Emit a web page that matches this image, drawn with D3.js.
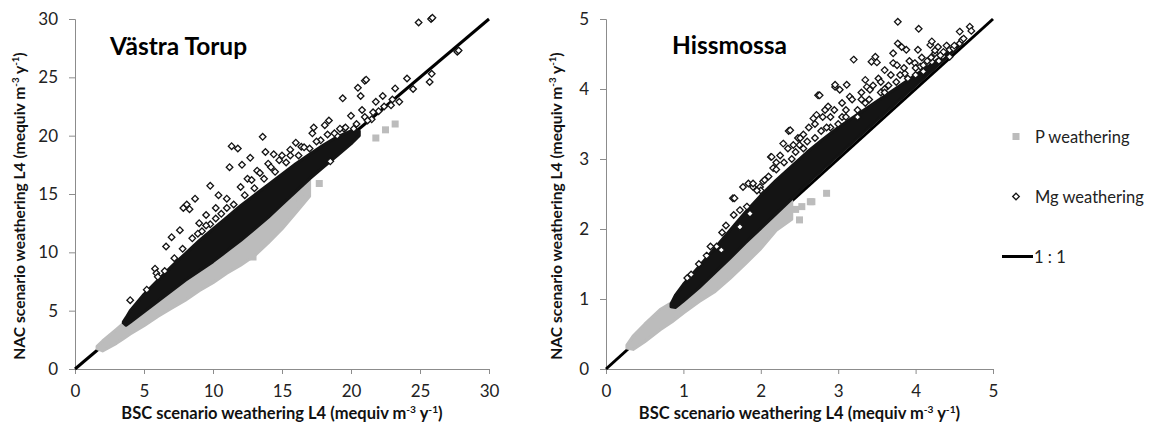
<!DOCTYPE html>
<html>
<head>
<meta charset="utf-8">
<script src="https://cdn.jsdelivr.net/npm/d3@7"></script>
<style>
  body { margin: 0; background: #fff; }
  svg { display: block; font-family: Lato, "Open Sans", sans-serif; }
</style>
</head>
<body>
<svg id="chart" width="1150" height="433"></svg>
<script>
// ---- Västra Torup (left panel) ----
var vtTicks = [0, 5, 10, 15, 20, 25, 30];
// dense Mg band (envelope of overlapping diamonds)
var vtMgBandX = [3.5, 3.7, 4, 5, 6, 7, 8, 9, 10, 11, 12, 13, 14, 15, 16, 17, 18, 19, 20, 20.6];
var vtMgBandLo = [3.95, 3.75, 4.0, 4.9, 5.8, 6.7, 7.6, 8.4, 9.2, 10.1, 11.0, 12.0, 13.0, 14.1, 15.2, 16.3, 17.3, 18.3, 19.3, 20.0];
var vtMgBandHi = [4.05, 4.4, 5.0, 6.4, 7.6, 8.8, 9.9, 11.0, 12.0, 13.0, 14.0, 14.9, 15.8, 16.7, 17.6, 18.4, 19.2, 19.9, 20.4, 20.4];
// dense P band (envelope of overlapping squares)
var vtPBandX = [1.6, 2, 3, 3.5, 4, 5, 6, 7, 8, 9, 10, 11, 12, 13, 14, 15, 16, 17];
var vtPBandLo = [1.75, 1.55, 2.2, 2.6, 3.0, 3.7, 4.5, 5.2, 5.9, 6.7, 7.4, 8.2, 8.9, 9.7, 10.8, 12.0, 13.4, 14.8];
var vtPBandHi = [1.95, 2.4, 3.4, 3.9, 4.3, 5.2, 6.1, 7.0, 7.9, 8.7, 9.5, 10.4, 11.3, 12.3, 13.3, 14.4, 15.5, 16.4];
// single P points outside the band
var vtPx = [12.9, 14.6, 15.5, 16.3, 17.7, 21.8, 22.5, 23.2];
var vtPy = [9.6, 12.6, 14.3, 14.6, 15.9, 19.8, 20.5, 21.0];
// single Mg points outside or on the edge of the band
var vtMgx = [4.0, 5.8, 5.9, 6.6, 7.0, 7.6, 7.85, 8.1, 8.3, 8.7, 9.0, 9.5, 9.8, 10.2, 10.4, 11.0, 11.2, 11.35, 11.8, 12.0, 12.1, 12.5, 12.7, 13.2, 13.6, 13.8, 14.0, 14.4, 15.0, 15.6, 16.0, 16.4, 17.2, 17.3, 18.1, 18.4, 18.5, 19.0, 19.4, 19.5, 20.0, 20.2, 20.5, 20.7, 20.8, 21.0, 21.0, 21.1, 21.5, 21.8, 22.0, 22.3, 22.9, 23.2, 23.5, 24.06, 24.5, 24.9, 25.7, 25.85, 25.8, 25.9, 27.7, 27.8,
	5.2, 6.0, 6.5, 7.2, 7.8, 8.5, 9.2, 9.8, 10.6, 11.5, 12.3, 13.0, 13.7, 14.5, 15.3, 16.2, 17.0, 17.8, 18.8, 19.6,
	12.8, 13.4, 14.2, 14.8, 15.6, 16.6, 17.5, 18.3, 19.2, 20.4, 21.2, 21.6, 22.4, 23.0, 10.2, 11.0, 8.9, 9.5];
var vtMgy = [5.9, 8.6, 8.2, 10.5, 11.3, 11.9, 13.8, 14.1, 13.7, 14.6, 12.5, 13.2, 15.7, 13.8, 14.9, 14.6, 17.3, 19.1, 18.9, 15.6, 17.5, 16.3, 18.1, 17.0, 19.9, 18.6, 17.6, 18.4, 18.3, 18.8, 19.4, 19.05, 20.2, 20.7, 20.9, 21.3, 17.8, 20.0, 23.2, 20.6, 21.7, 20.6, 24.1, 23.4, 22.2, 24.7, 21.6, 24.8, 21.4, 22.9, 22.1, 23.4, 22.6, 24.05, 22.9, 24.9, 24.0, 29.7, 24.6, 25.3, 30.0, 30.1, 27.2, 27.3,
	6.8, 7.9, 8.4, 9.5, 10.3, 11.2, 11.8, 12.4, 13.3, 14.1, 14.9, 15.5, 16.3, 16.9, 17.7, 18.3, 18.9, 19.6, 20.2, 20.7,
	16.2, 16.8, 17.3, 17.9, 18.3, 19.0, 19.5, 20.1, 20.6, 21.0, 21.3, 22.0, 22.5, 23.1, 12.9, 13.8, 11.6, 12.3];

// ---- Hissmossa (right panel) ----
var hmTicks = [0, 1, 2, 3, 4, 5];
var hmMgBandX = [0.84, 0.9, 1.0, 1.2, 1.4, 1.6, 1.8, 2.0, 2.2, 2.4, 2.6, 2.8, 3.0, 3.2, 3.4, 3.6, 3.8, 4.0, 4.2, 4.4, 4.55];
var hmMgBandLo = [0.89, 0.88, 0.97, 1.16, 1.37, 1.58, 1.8, 2.01, 2.22, 2.43, 2.65, 2.85, 3.05, 3.25, 3.45, 3.65, 3.85, 4.05, 4.25, 4.45, 4.6];
var hmMgBandHi = [0.93, 1.06, 1.21, 1.46, 1.72, 1.98, 2.24, 2.48, 2.7, 2.9, 3.1, 3.28, 3.45, 3.6, 3.75, 3.9, 4.05, 4.2, 4.35, 4.52, 4.62];
var hmPBandX = [0.27, 0.35, 0.5, 0.7, 0.85, 1.0, 1.2, 1.4, 1.6, 1.8, 2.0, 2.2, 2.4];
var hmPBandLo = [0.30, 0.28, 0.39, 0.56, 0.67, 0.8, 0.96, 1.1, 1.29, 1.5, 1.72, 1.98, 2.14];
var hmPBandHi = [0.34, 0.47, 0.64, 0.85, 0.95, 1.04, 1.22, 1.42, 1.62, 1.84, 2.04, 2.25, 2.4];
var hmPx = [2.45, 2.5, 2.53, 2.64, 2.66, 2.85];
var hmPy = [2.28, 2.13, 2.32, 2.39, 2.39, 2.51];
var hmMgx = [1.1, 1.2, 1.3, 1.43, 1.49, 1.55, 1.64, 1.66, 1.73, 1.73, 1.77, 1.82, 1.84, 1.86, 1.9, 1.9, 1.99, 2.0, 2.03, 2.13, 2.14, 2.16, 2.2, 2.29, 2.36, 2.38, 2.4, 2.48, 2.51, 2.55, 2.6, 2.68, 2.72, 2.74, 2.76, 2.83, 2.87, 2.9, 2.96, 2.96, 3.02, 3.05, 3.11, 3.15, 3.2, 3.25, 3.3, 3.35, 3.37, 3.41, 3.43, 3.48, 3.5, 3.52, 3.55, 3.6, 3.65, 3.71, 3.71, 3.76, 3.77, 3.77, 3.82, 3.86, 3.88, 3.9, 3.99, 4.03, 4.04, 4.06, 4.1, 4.1, 4.19, 4.21, 4.21, 4.25, 4.29, 4.3, 4.35, 4.36, 4.44, 4.44, 4.49, 4.57, 4.57, 4.6, 4.7, 4.72,
	1.05, 1.35, 1.5, 1.65, 1.95, 2.1, 2.3, 2.45, 2.7, 2.85, 3.1, 3.35, 3.6, 3.8, 4.0, 4.2,
	2.5, 2.55, 2.62, 2.7, 2.78, 2.8, 2.9, 2.95, 3.0, 3.05, 3.1, 3.18, 3.25, 3.3, 3.4, 3.45, 3.55, 3.6, 3.68, 3.75, 3.85, 3.92, 4.0, 4.08, 4.15, 4.25, 4.32, 4.4, 4.5, 4.62, 2.25, 2.35, 2.42, 2.2, 2.05];
var hmMgy = [1.35, 1.5, 1.62, 1.75, 1.7, 2.05, 2.44, 2.44, 2.03, 2.27, 2.6, 2.32, 2.65, 2.22, 2.6, 2.65, 2.6, 2.55, 2.68, 3.03, 3.03, 2.87, 2.85, 3.22, 3.4, 3.41, 3.0, 3.3, 3.3, 3.15, 3.25, 3.58, 3.63, 3.91, 3.91, 3.7, 3.75, 3.45, 4.03, 4.06, 3.99, 3.6, 4.06, 3.89, 4.42, 3.7, 3.85, 4.13, 4.03, 3.99, 4.39, 4.46, 4.38, 4.15, 3.95, 4.27, 4.05, 4.51, 4.37, 4.34, 4.96, 4.65, 4.6, 4.22, 4.56, 4.15, 4.37, 4.56, 4.86, 4.32, 4.34, 4.25, 4.63, 4.68, 4.39, 4.51, 4.6, 4.4, 4.47, 4.53, 4.56, 4.46, 4.58, 4.82, 4.65, 4.7, 4.89, 4.83,
	1.3, 1.75, 1.95, 2.2, 2.55, 2.75, 2.95, 3.1, 3.3, 3.45, 3.6, 3.8, 4.0, 4.2, 4.3, 4.45,
	3.2, 3.35, 3.45, 3.5, 3.4, 3.6, 3.6, 3.7, 3.5, 3.8, 3.7, 3.85, 3.6, 3.95, 3.85, 4.05, 4.1, 3.95, 4.2, 4.1, 4.3, 4.4, 4.2, 4.45, 4.4, 4.55, 4.48, 4.62, 4.62, 4.72, 3.05, 3.15, 3.2, 2.95, 2.7];

var legendLabels = ["P weathering", "Mg weathering", "1 : 1"];

var GRAY = "#bcbcbc", INK = "#141414", AXIS = "#8c8c8c";
var svg = d3.select("#chart");

function zipBand(xs, lo, hi) {
	return xs.map(function(v, i) { return {x: v, lo: lo[i], hi: hi[i]}; });
}
function zipPts(xs, ys) {
	return xs.map(function(v, i) { return {x: v, y: ys[i]}; });
}
function diamond(r) {
	return "M0," + (-r) + "L" + r + ",0L0," + r + "L" + (-r) + ",0Z";
}

function addTitle(g, x, y, size, parts, rotate) {
	var t = g.append("text")
		.attr("text-anchor", "middle")
		.attr("font-weight", "bold")
		.attr("font-size", size)
		.attr("fill", "#111")
		.attr("transform", "translate(" + x + "," + y + ")" + (rotate ? " rotate(-90)" : ""));
	parts.forEach(function(p) {
		var s = t.append("tspan").text(p[0]);
		if (p[1]) s.attr("baseline-shift", "super").attr("font-size", size * 0.62);
	});
}

function drawPanel(p) {
	var g = svg.append("g");
	var x = d3.scaleLinear().domain(p.domain).range(p.xRange);
	var y = d3.scaleLinear().domain(p.domain).range(p.yRange);
	var fmt = d3.format("d");

	// axes
	var xAxis = g.append("g")
		.attr("transform", "translate(0," + p.yRange[0] + ")")
		.call(d3.axisBottom(x).tickValues(p.ticks).tickFormat(fmt).tickSize(5).tickPadding(11));
	var yAxis = g.append("g")
		.attr("transform", "translate(" + p.xRange[0] + ",0)")
		.call(d3.axisLeft(y).tickValues(p.ticks).tickFormat(fmt).tickSize(6).tickPadding(11));
	[xAxis, yAxis].forEach(function(a) {
		a.select(".domain").attr("stroke", AXIS);
		a.selectAll(".tick line").attr("stroke", AXIS);
		a.selectAll(".tick text")
			.attr("font-size", 17)
			.attr("fill", "#222")
			.attr("font-family", "Lato, 'Open Sans', sans-serif");
	});

	// 1:1 line
	g.append("line")
		.attr("x1", x(p.domain[0])).attr("y1", y(p.domain[0]))
		.attr("x2", x(p.domain[1])).attr("y2", y(p.domain[1]))
		.attr("stroke", "#000")
		.attr("stroke-width", 3);

	var area = d3.area()
		.x(function(d) { return x(d.x); })
		.y0(function(d) { return y(d.lo); })
		.y1(function(d) { return y(d.hi); });

	// P weathering
	g.append("path")
		.attr("d", area(p.pBand))
		.attr("fill", GRAY)
		.attr("stroke", GRAY)
		.attr("stroke-width", 3)
		.attr("stroke-linejoin", "round");
	g.selectAll(".psq").data(p.pPts).enter().append("rect")
		.attr("x", function(d) { return x(d.x) - 3.5; })
		.attr("y", function(d) { return y(d.y) - 3.5; })
		.attr("width", 7).attr("height", 7)
		.attr("fill", GRAY);

	// Mg weathering
	g.append("path")
		.attr("d", area(p.mgBand))
		.attr("fill", INK)
		.attr("stroke", INK)
		.attr("stroke-width", 3)
		.attr("stroke-linejoin", "round");
	g.selectAll(".mgd").data(p.mgPts).enter().append("path")
		.attr("transform", function(d) { return "translate(" + x(d.x) + "," + y(d.y) + ")"; })
		.attr("d", diamond(3.3))
		.attr("fill", "#fff")
		.attr("stroke", INK)
		.attr("stroke-width", 1.3);

	// panel name
	g.append("text")
		.attr("x", p.name[1]).attr("y", p.name[2])
		.attr("font-size", 24.5)
		.attr("font-weight", "bold")
		.attr("fill", "#000")
		.text(p.name[0]);

	addTitle(g, (p.xRange[0] + p.xRange[1]) / 2, 419, 16.5,
		[["BSC scenario weathering L4 (mequiv m"], ["-3", 1], [" y"], ["-1", 1], [")"]], false);
	addTitle(g, p.yTitleX, 206, 15.6,
		[["NAC scenario weathering L4 (mequiv m"], ["-3", 1], [" y"], ["-1", 1], [")"]], true);
}

drawPanel({
	domain: [0, 30], ticks: vtTicks,
	xRange: [75, 489], yRange: [369, 19],
	pBand: zipBand(vtPBandX, vtPBandLo, vtPBandHi),
	mgBand: zipBand(vtMgBandX, vtMgBandLo, vtMgBandHi),
	pPts: zipPts(vtPx, vtPy), mgPts: zipPts(vtMgx, vtMgy),
	name: ["Västra Torup", 110, 55], yTitleX: 25
});
drawPanel({
	domain: [0, 5], ticks: hmTicks,
	xRange: [606, 993], yRange: [369, 19],
	pBand: zipBand(hmPBandX, hmPBandLo, hmPBandHi),
	mgBand: zipBand(hmMgBandX, hmMgBandLo, hmMgBandHi),
	pPts: zipPts(hmPx, hmPy), mgPts: zipPts(hmMgx, hmMgy),
	name: ["Hissmossa", 672, 54], yTitleX: 562
});

// legend
var lg = svg.append("g").attr("font-size", 16.5).attr("fill", "#222");
lg.append("rect").attr("x", 1012.5).attr("y", 133).attr("width", 7).attr("height", 7).attr("fill", GRAY);
lg.append("path").attr("transform", "translate(1016,196.5)").attr("d", diamond(3.3))
	.attr("fill", "#fff").attr("stroke", INK).attr("stroke-width", 1.3);
lg.append("line").attr("x1", 1002).attr("x2", 1033).attr("y1", 256.5).attr("y2", 256.5)
	.attr("stroke", "#000").attr("stroke-width", 3);
lg.selectAll(".lt").data(legendLabels).enter().append("text")
	.attr("x", function(d, i) { return i < 2 ? 1035 : 1034; })
	.attr("y", function(d, i) { return 137 + i * 60; })
	.attr("dominant-baseline", "central")
	.attr("fill", "#222")
	.text(function(d) { return d; });
</script>
</body>
</html>
